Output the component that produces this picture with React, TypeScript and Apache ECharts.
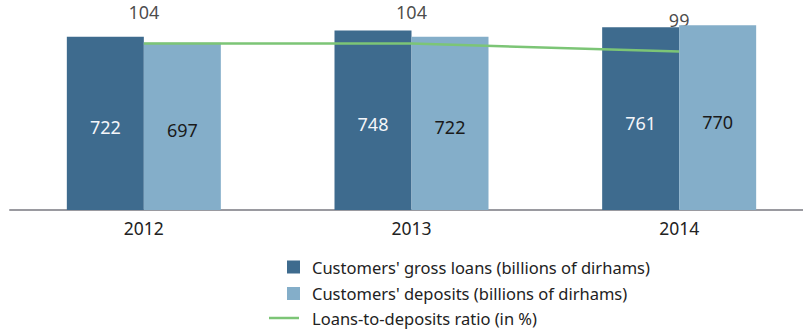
import React, { useEffect, useRef } from "react";
import * as echarts from "echarts";

const years = ["2012", "2013", "2014"];
const grossLoans = [722, 748, 761];
const deposits = [697, 722, 770];
const ratio = [104, 104, 99];
const seriesNames = [
  "Customers' gross loans (billions of dirhams)",
  "Customers' deposits (billions of dirhams)",
  "Loans-to-deposits ratio (in %)",
];

const FONT = "'Noto Sans', 'Open Sans', sans-serif";

export default function App() {
  const ref = useRef<HTMLDivElement>(null);
  useEffect(() => {
    if (!ref.current) return;
    const chart = echarts.init(ref.current, null, { renderer: "svg" });
    chart.setOption({
      animation: false,
      textStyle: { fontFamily: FONT },
      grid: { left: 10, top: 18, right: 0, bottom: 120, containLabel: false },
      legend: [
        {
          data: [seriesNames[0], seriesNames[1]],
          orient: "vertical",
          left: 282,
          top: 253.5,
          itemWidth: 13,
          itemHeight: 13,
          itemGap: 9.5,
          icon: "rect",
          selectedMode: false,
          textStyle: { fontSize: 16.5, color: "#222", fontFamily: FONT, lineHeight: 16, padding: [0, 0, 0, 7] },
        },
        {
          data: [{ name: seriesNames[2], icon: "rect", itemStyle: { color: "#7cc576" } }],
          orient: "vertical",
          left: 264,
          top: 304.5,
          itemWidth: 30,
          itemHeight: 2.5,
          selectedMode: false,
          textStyle: { fontSize: 16.5, color: "#222", fontFamily: FONT, lineHeight: 16, padding: [0, 0, 0, 8] },
        },
      ],
      xAxis: {
        type: "category",
        data: years,
        axisTick: { show: false },
        axisLine: { lineStyle: { color: "#9a9aa0", width: 2 } },
        axisLabel: { fontSize: 17.5, color: "#222", margin: 9, fontFamily: FONT },
      },
      yAxis: [
        { type: "value", min: 0, max: 800, show: false, splitLine: { show: false } },
        { type: "value", min: 0, max: 120, show: false, splitLine: { show: false } },
      ],
      series: [
        {
          name: seriesNames[2] + "_labels",
          type: "scatter",
          yAxisIndex: 1,
          data: ratio,
          symbolSize: 0,
          z: 1,
          silent: true,
          label: { show: true, position: "top", distance: 23, fontSize: 18, color: "#1a1a1a", fontFamily: FONT },
        },
        {
          name: seriesNames[0],
          type: "bar",
          data: grossLoans,
          barWidth: 77,
          barGap: "0%",
          z: 2,
          itemStyle: { color: "#3e6b8e" },
          label: { show: true, position: "inside", offset: [0, 4], fontSize: 18, color: "#f4f6fa", fontFamily: FONT },
        },
        {
          name: seriesNames[1],
          type: "bar",
          data: deposits,
          barWidth: 77,
          barGap: "0%",
          z: 2,
          itemStyle: { color: "#84aec9" },
          label: { show: true, position: "inside", offset: [0, 4], fontSize: 18, color: "#1a1a1a", fontFamily: FONT },
        },
        {
          name: seriesNames[2],
          type: "line",
          yAxisIndex: 1,
          data: ratio,
          symbol: "none",
          z: 3,
          lineStyle: { color: "#7cc576", width: 2.5 },
          itemStyle: { color: "#7cc576" },
        },
      ],
    });
    return () => chart.dispose();
  }, []);
  return (
    <div style={{ width: 803, height: 330, position: "absolute", left: 0, top: 0, overflow: "hidden" }}>
      <div ref={ref} style={{ width: 813, height: 330 }} />
    </div>
  );
}
